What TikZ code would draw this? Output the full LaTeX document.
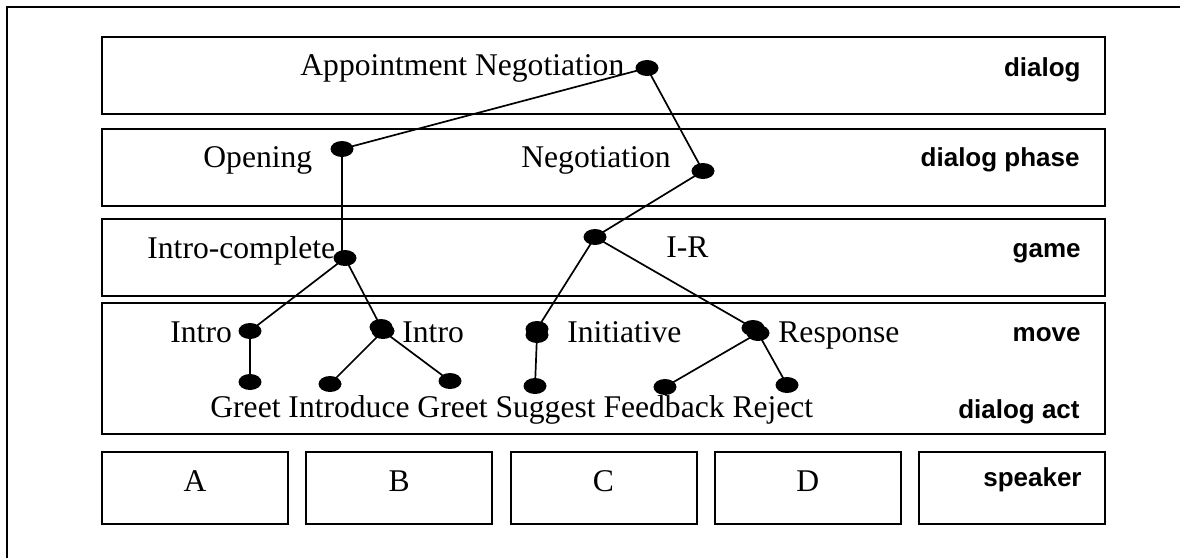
\documentclass[tikz,border=0pt]{standalone}
\usepackage{fontspec}
\setmainfont{Liberation Serif}
\setsansfont{Liberation Sans}
\usetikzlibrary{shapes.geometric}
\begin{document}
\begin{tikzpicture}[x=0.5pt,y=-0.5pt,
  frame/.style={line width=1pt},
  layer/.style={line width=1pt},
  edge/.style={line width=0.85pt},
  dot/.style={ellipse,fill=black,draw=none,inner sep=0pt,minimum width=11.5pt,minimum height=8pt},
  lbl/.style={inner sep=0pt,anchor=base west,font=\fontsize{15.8pt}{18pt}\selectfont},
  spk/.style={inner sep=0pt,anchor=base,font=\fontsize{15.8pt}{18pt}\selectfont},
  lvl/.style={inner sep=0pt,anchor=base east,font=\sffamily\bfseries\fontsize{13pt}{15pt}\selectfont}]
\useasboundingbox (0,0) rectangle (1180,558);

% outer frame
\draw[frame] (7,558) -- (7,7) -- (1180,7);

% annotation layers
\draw[layer] (102,37) rectangle (1105,114);
\draw[layer] (102,129) rectangle (1105,206);
\draw[layer] (102,219) rectangle (1105,296);
\draw[layer] (102,303) rectangle (1105,434);
% speaker row
\draw[layer] (102,452) rectangle (288,524);
\draw[layer] (306.25,452) rectangle (492.25,524);
\draw[layer] (510.5,452) rectangle (696.5,524);
\draw[layer] (714.75,452) rectangle (900.75,524);
\draw[layer] (919,452) rectangle (1105,524);

% layer names
\node[lvl] (ldialog) at (1081,76) {dialog};
\node[lvl] (lphase) at (1080,166) {dialog phase};
\node[lvl] (lgame) at (1081,257) {game};
\node[lvl] (lmove) at (1081,341) {move};
\node[lvl] (lact) at (1080,418) {dialog act};
\node[lvl] (lspeaker) at (1082,486) {speaker};

% tree labels
\node[lbl] (tan) at (300,75) {Appointment Negotiation};
\node[lbl] (topen) at (203,167) {Opening};
\node[lbl] (tneg) at (521,167) {Negotiation};
\node[lbl] (tic) at (147,258) {Intro-complete};
\node[lbl] (tir) at (666,257) {I-R};
\node[lbl] (tintroa) at (170,342) {Intro};
\node[lbl] (tintrob) at (402,342) {Intro};
\node[lbl] (tini) at (567,342) {Initiative};
\node[lbl] (tresp) at (778,342) {Response};
\node[lbl] (tacts) at (210,417) {Greet Introduce Greet Suggest Feedback Reject};

% speakers
\node[spk] (sa) at (195,491) {A};
\node[spk] (sb) at (399.25,491) {B};
\node[spk] (sc) at (603.5,491) {C};
\node[spk] (sd) at (807.75,491) {D};

% tree dots
\node[dot] (an) at (647,68) {};
\node[dot] (open) at (342,149) {};
\node[dot] (neg) at (703,171) {};
\node[dot] (ic) at (345,258) {};
\node[dot] (ir) at (595,237) {};
\node[dot] (introa) at (250,331) {};
\node[dot] (introb) at (381,327) {};
\node[dot] (introbl) at (383,331) {};
\node[dot] (ini) at (537,329) {};
\node[dot] (inil) at (537,335) {};
\node[dot] (resp) at (753,328) {};
\node[dot] (respl) at (758,333) {};
\node[dot] (greeta) at (250,382) {};
\node[dot] (introd) at (330,384) {};
\node[dot] (greetb) at (450,381) {};
\node[dot] (sugg) at (535,386) {};
\node[dot] (feed) at (665,387) {};
\node[dot] (rej) at (787,385) {};

% tree edges
\draw[edge] (an.center) -- (open.center);
\draw[edge] (an.center) -- (neg.center);
\draw[edge] (open.center) -- (open |- ic);
\draw[edge] (neg.center) -- (ir.center);
\draw[edge] (ic.center) -- (introa.center);
\draw[edge] (ic.center) -- (introb.center);
\draw[edge] (ir.center) -- (ini.center);
\draw[edge] (ir.center) -- (resp.center);
\draw[edge] (introa.center) -- (greeta.center);
\draw[edge] (introbl.center) -- (introd.center);
\draw[edge] (introbl.center) -- (greetb.center);
\draw[edge] (inil.center) -- (sugg.center);
\draw[edge] (respl.center) -- (feed.center);
\draw[edge] (respl.center) -- (rej.center);
\end{tikzpicture}
\end{document}
